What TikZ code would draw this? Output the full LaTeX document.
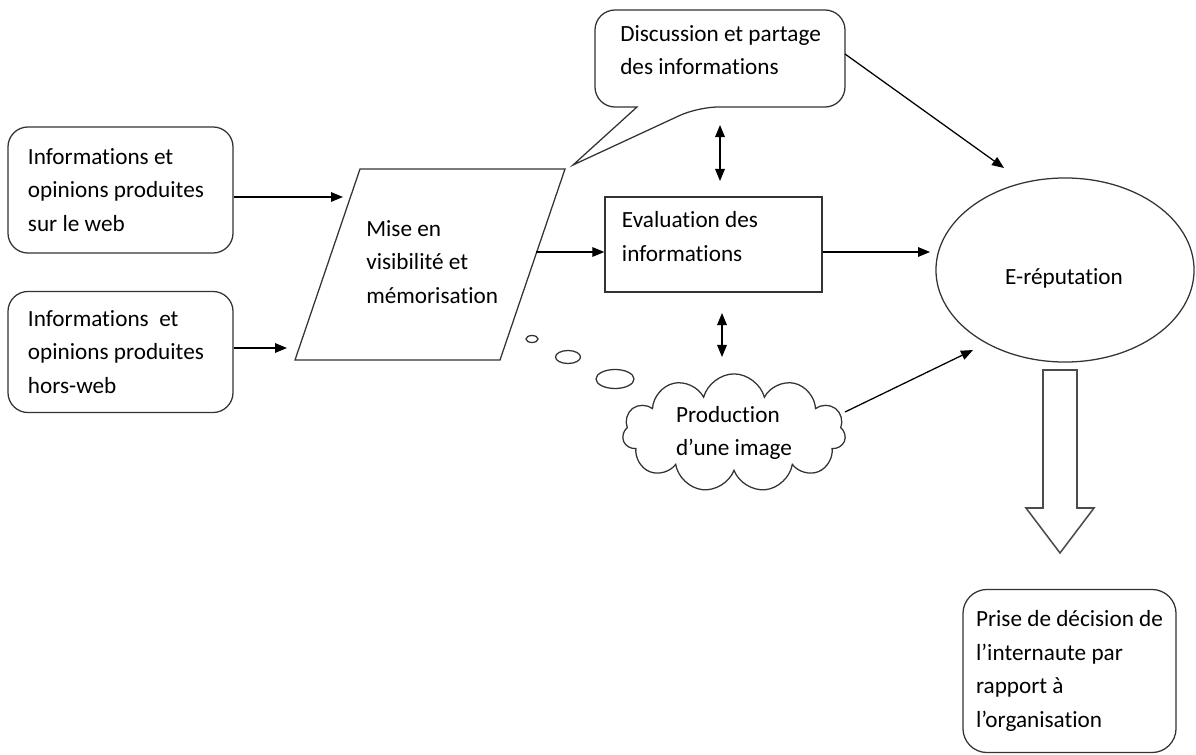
\documentclass[tikz,border=0pt]{standalone}
\usepackage{fontspec}
\setmainfont{Carlito}[Ligatures=NoCommon]
\usetikzlibrary{arrows.meta}
\usetikzlibrary{shapes.geometric,shapes.symbols}
\tikzset{>={Triangle[length=3mm,width=2.4mm]},
 txt/.style={font=\fontsize{16.5}{24}\selectfont, align=flush left, inner sep=0pt},
 outline/.style={draw=black!80, line width=0.9pt},
 box/.style={txt, outline, inner xsep=0.5cm},
 rbox/.style={box, rounded corners=0.5cm},
 flow/.style={line width=0.9pt, ->},
 }

\begin{document}
\begin{tikzpicture}[x=0.025cm, y=-0.025cm]
        \useasboundingbox (0,0) rectangle (1196,755);

        \node[rbox, text width=4.625cm, minimum width=5.625cm, minimum height=3.15cm] (web) at (120.5,190) {Informations et\\opinions produites\\sur le web};
        \node[rbox, text width=4.625cm, minimum width=5.625cm, minimum height=3.025cm] (hors) at (120.5,352) {Informations\ \ et\\opinions produites\\hors-web};

        \coordinate (ptl) at (360,169);
        \coordinate (ptr) at (565,169);
        \coordinate (pbr) at (500,360);
        \coordinate (pbl) at (295,360);
        \draw[outline] (ptl) -- (ptr) -- (pbr) -- (pbl) -- cycle;
        \node[txt, anchor=west] (mise) at (366,262) {Mise en\\visibilité et\\mémorisation};

        \coordinate (a1) at (343,197);
        \coordinate (a2) at (287,348);
        \draw[flow] (web.east |- a1) -- (a1);
        \draw[flow] (hors.east |- a2) -- (a2);

        \node[box, inner xsep=0.425cm, text width=4.575cm, text depth=1.25cm, minimum height=2.375cm] (eval) at (713.5,244.5) {Evaluation des\\informations};

        \node[ellipse, outline, minimum width=6.45cm, minimum height=4.6cm, inner sep=0pt] (ell) at (1065,270) {};
        \node[txt] (erep) at (1064,278) {E-réputation};

        \coordinate (pr) at (536,252);
        \coordinate (e1) at (930,252);
        \draw[flow] (pr) -- (pr -| eval.west);
        \draw[flow] (pr -| eval.east) -- (e1);

        % bulle de discussion
        \coordinate (ctip) at (573,165);
        \draw[outline] (637,107) [rounded corners=0.5cm] -- (595,107) -- (595,10) -- (845,10) -- (845,107) -- (698,107) [sharp corners] -- (ctip) -- cycle;
        \node[txt, anchor=west] (disc) at (620,50) {Discussion et partage\\des informations};

        \coordinate (c1) at (845,54);
        \coordinate (e2) at (1004,168);
        \draw[flow] (c1) -- (e2);

        \coordinate (d1) at (720,125);
        \coordinate (d2) at (720,181);
        \coordinate (d3) at (722,313);
        \coordinate (d4) at (722,357);
        \draw[flow, <->] (d1) -- (d2);
        \draw[flow, <->] (d3) -- (d4);

        % nuage
        \node[txt, cloud, cloud puffs=11, aspect=1.9, outline, minimum width=5.575cm, minimum height=2.925cm] (img) at (734,433) {Production\\d’une image};
        \draw[outline] (532,339) ellipse [x radius=0.15cm, y radius=0.0875cm];
        \draw[outline] (568,357) ellipse [x radius=0.3125cm, y radius=0.1625cm];
        \draw[outline] (615,379) ellipse [x radius=0.475cm, y radius=0.2375cm];

        \coordinate (i1) at (845,412);
        \coordinate (e3) at (973,350);
        \draw[flow] (i1) -- (e3);

        \draw[draw=black!70, line width=1.1pt] (1043,370) -- (1077,370) -- (1077,508) -- (1094,508) -- (1060,553) -- (1026,508) -- (1043,508) -- cycle;

        \node[rbox, rounded corners=0.6cm, inner xsep=0pt, minimum width=5.325cm, minimum height=4.075cm] (dec) at (1069.5,671) {Prise de décision de\\l’internaute par\\rapport à\\l’organisation};
    \end{tikzpicture}
\end{document}
